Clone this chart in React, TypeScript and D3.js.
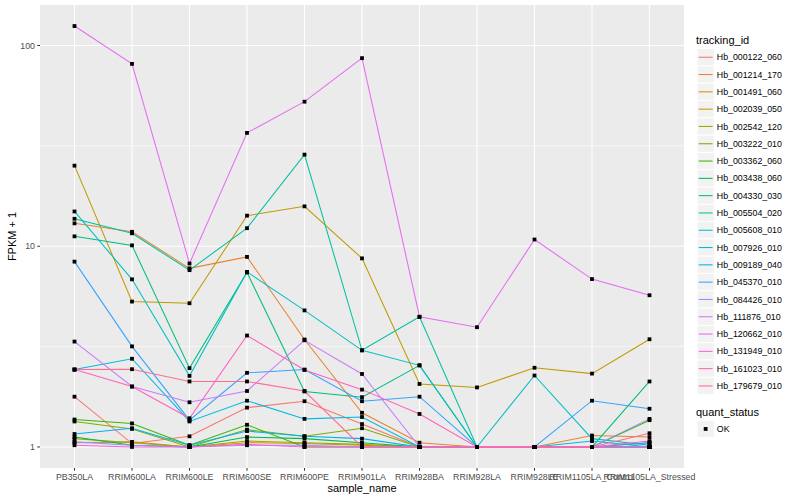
import * as d3 from 'd3';

// sample names (x categories)
const samples = [
  'PB350LA', 'RRIM600LA', 'RRIM600LE', 'RRIM600SE', 'RRIM600PE', 'RRIM901LA',
  'RRIM928BA', 'RRIM928LA', 'RRIM928LE', 'RRIM1105LA_Control', 'RRIM1105LA_Stressed',
];

const trackingIds = [
  'Hb_000122_060', 'Hb_001214_170', 'Hb_001491_060', 'Hb_002039_050', 'Hb_002542_120',
  'Hb_003222_010', 'Hb_003362_060', 'Hb_003438_060', 'Hb_004330_030', 'Hb_005504_020',
  'Hb_005608_010', 'Hb_007926_010', 'Hb_009189_040', 'Hb_045370_010', 'Hb_084426_010',
  'Hb_111876_010', 'Hb_120662_010', 'Hb_131949_010', 'Hb_161023_010', 'Hb_179679_010',
];

// FPKM + 1 per sample, one array per gene
const hb000122 = [1.78, 1.04, 1.13, 1.57, 1.69, 1.3, 1.0, 1.0, 1.0, 1.0, 1.05];
const hb001214 = [13.0, 11.8, 7.76, 8.85, 3.43, 1.48, 1.05, 1.0, 1.0, 1.14, 1.12];
const hb001491 = [1.05, 1.06, 1.0, 1.05, 1.04, 1.02, 1.0, 1.0, 1.0, 1.0, 1.0];
const hb002039 = [25.2, 5.3, 5.2, 14.2, 15.8, 8.7, 2.06, 1.98, 2.48, 2.32, 3.44];
const hb002542 = [1.1, 1.05, 1.0, 1.07, 1.05, 1.03, 1.0, 1.0, 1.0, 1.0, 1.0];
const hb003222 = [1.34, 1.23, 1.0, 1.22, 1.13, 1.24, 1.0, 1.0, 1.0, 1.0, 1.0];
const hb003362 = [1.37, 1.31, 1.02, 1.29, 1.0, 1.0, 1.0, 1.0, 1.0, 1.0, 1.36];
const hb003438 = [1.12, 1.02, 1.0, 1.12, 1.1, 1.05, 1.0, 1.0, 1.0, 1.0, 1.0];
const hb004330 = [11.2, 10.1, 2.47, 7.4, 1.89, 1.77, 2.55, 1.0, 1.0, 1.0, 2.12];
const hb005504 = [13.7, 11.6, 7.6, 12.3, 28.6, 3.03, 4.45, 1.0, 1.0, 1.0, 1.0];
const hb005608 = [14.9, 6.84, 2.26, 7.45, 4.79, 3.03, 2.55, 1.0, 2.27, 1.1, 1.02];
const hb007926 = [2.43, 2.75, 1.34, 1.7, 1.38, 1.41, 1.0, 1.0, 1.0, 1.07, 1.0];
const hb009189 = [1.16, 1.24, 1.02, 1.2, 1.13, 1.1, 1.0, 1.0, 1.0, 1.0, 1.05];
const hb045370 = [8.38, 3.17, 1.36, 2.34, 2.43, 1.69, 1.78, 1.0, 1.0, 1.7, 1.55];
const hb084426 = [1.06, 1.02, 1.0, 1.02, 1.02, 1.0, 1.0, 1.0, 1.0, 1.0, 1.38];
const hb111876 = [3.35, 2.0, 1.67, 1.9, 3.4, 2.31, 1.0, 1.0, 1.0, 1.0, 1.0];
const hb120662 = [125, 81, 8.2, 36.7, 52.5, 86.5, 4.45, 3.95, 10.8, 6.86, 5.7];
const hb131949 = [1.02, 1.0, 1.0, 1.03, 1.0, 1.0, 1.0, 1.0, 1.0, 1.0, 1.0];
const hb161023 = [2.43, 2.0, 1.39, 3.59, 2.42, 1.93, 1.46, 1.0, 1.0, 1.0, 1.07];
const hb179679 = [2.43, 2.44, 2.12, 2.12, 1.9, 1.0, 1.0, 1.0, 1.0, 1.0, 1.17];

const seriesValues = [
  hb000122, hb001214, hb001491, hb002039, hb002542, hb003222, hb003362, hb003438,
  hb004330, hb005504, hb005608, hb007926, hb009189, hb045370, hb084426, hb111876,
  hb120662, hb131949, hb161023, hb179679,
];

const yTicks = [1, 10, 100];

// ggplot2 default hue palette for 20 groups
const palette = [
  '#F8766D', '#EA8331', '#D89000', '#C09B00', '#A3A500', '#7CAE00', '#39B600', '#00BB4E',
  '#00BF7D', '#00C1A3', '#00BFC4', '#00BAE0', '#00B0F6', '#35A2FF', '#9590FF', '#C77CFF',
  '#E76BF3', '#FA62DB', '#FF62BC', '#FF6C90',
];

const FONT = '"Liberation Sans", Arial, Helvetica, sans-serif';

export default function App() {
  const W = 800;
  const H = 500;
  const panel = { left: 40, right: 684, top: 5, bottom: 468 };

  const x = d3.scalePoint<string>()
    .domain(samples)
    .range([panel.left, panel.right])
    .padding(0.6);

  // log10 scale with ggplot's 5% expansion
  const maxV = d3.max(seriesValues, s => d3.max(s)) as number;
  const lo = 0;
  const hi = Math.log10(maxV);
  const pad = (hi - lo) * 0.05;
  const y = d3.scaleLog()
    .domain([Math.pow(10, lo - pad), Math.pow(10, hi + pad)])
    .range([panel.bottom, panel.top]);

  const minorTicks = [Math.sqrt(10), Math.sqrt(1000)];

  const line = d3.line<number>()
    .x((_, i) => x(samples[i]) as number)
    .y(d => y(d));

  const legendX = 697;
  const keySize = 17.3;
  const keyTop = 48.6;

  return (
    <svg width={W} height={H} style={{ position: 'absolute', left: 0, top: 0, background: '#fff' }}
      fontFamily={FONT}>
      <rect x={panel.left} y={panel.top} width={panel.right - panel.left}
        height={panel.bottom - panel.top} fill="#EBEBEB" />
      {minorTicks.map(t => (
        <line key={'m' + t} x1={panel.left} x2={panel.right} y1={y(t)} y2={y(t)}
          stroke="#fff" strokeWidth={0.55} />
      ))}
      {yTicks.map(t => (
        <line key={'g' + t} x1={panel.left} x2={panel.right} y1={y(t)} y2={y(t)}
          stroke="#fff" strokeWidth={1.1} />
      ))}
      {samples.map(s => (
        <line key={'v' + s} x1={x(s)} x2={x(s)} y1={panel.top} y2={panel.bottom}
          stroke="#fff" strokeWidth={1.1} />
      ))}

      {seriesValues.map((vals, i) => (
        <path key={trackingIds[i]} d={line(vals) || ''} fill="none" stroke={palette[i]}
          strokeWidth={1.05} />
      ))}
      {seriesValues.map((vals, i) =>
        vals.map((v, j) => (
          <rect key={trackingIds[i] + j} x={(x(samples[j]) as number) - 1.9} y={y(v) - 1.9}
            width={3.8} height={3.8} fill="#000" />
        )),
      )}

      {/* y axis */}
      {yTicks.map(t => (
        <g key={'yt' + t}>
          <line x1={panel.left - 2.75} x2={panel.left} y1={y(t)} y2={y(t)} stroke="#333" strokeWidth={1} />
          <text x={panel.left - 5} y={y(t)} dy="0.35em" textAnchor="end" fontSize={8.8}
            fill="#4D4D4D">{t}</text>
        </g>
      ))}
      <text transform={`translate(12,${(panel.top + panel.bottom) / 2}) rotate(-90)`}
        textAnchor="middle" dy="0.35em" fontSize={11} fill="#000">FPKM + 1</text>

      {/* x axis */}
      {samples.map(s => (
        <g key={'xt' + s}>
          <line x1={x(s)} x2={x(s)} y1={panel.bottom} y2={panel.bottom + 2.75} stroke="#333" strokeWidth={1} />
          <text x={x(s)} y={panel.bottom + 5} dy="0.75em" textAnchor="middle" fontSize={8.8}
            fill="#4D4D4D">{s}</text>
        </g>
      ))}
      <text x={(panel.left + panel.right) / 2} y={488} dy="0.35em" textAnchor="middle"
        fontSize={11} fill="#000">sample_name</text>

      {/* legend: tracking_id */}
      <text x={legendX - 1} y={40.5} dy="0.35em" fontSize={11} fill="#000">tracking_id</text>
      {trackingIds.map((id, i) => {
        const top = keyTop + i * keySize;
        return (
          <g key={'lg' + id}>
            <rect x={legendX} y={top} width={keySize} height={keySize} fill="#F2F2F2"
              stroke="#fff" strokeWidth={1} />
            <line x1={legendX + 1.7} x2={legendX + keySize - 1.7} y1={top + keySize / 2}
              y2={top + keySize / 2} stroke={palette[i]} strokeWidth={1.05} />
            <text x={legendX + keySize + 2.5} y={top + keySize / 2} dy="0.35em" fontSize={8.8}
              fill="#000">{id}</text>
          </g>
        );
      })}

      {/* legend: quant_status */}
      <text x={legendX - 1} y={412.3} dy="0.35em" fontSize={11} fill="#000">quant_status</text>
      <rect x={legendX} y={420.3} width={keySize} height={keySize} fill="#F2F2F2"
        stroke="#fff" strokeWidth={1} />
      <rect x={legendX + keySize / 2 - 1.9} y={420.3 + keySize / 2 - 1.9} width={3.8}
        height={3.8} fill="#000" />
      <text x={legendX + keySize + 2.5} y={420.3 + keySize / 2} dy="0.35em" fontSize={8.8}
        fill="#000">OK</text>
    </svg>
  );
}
